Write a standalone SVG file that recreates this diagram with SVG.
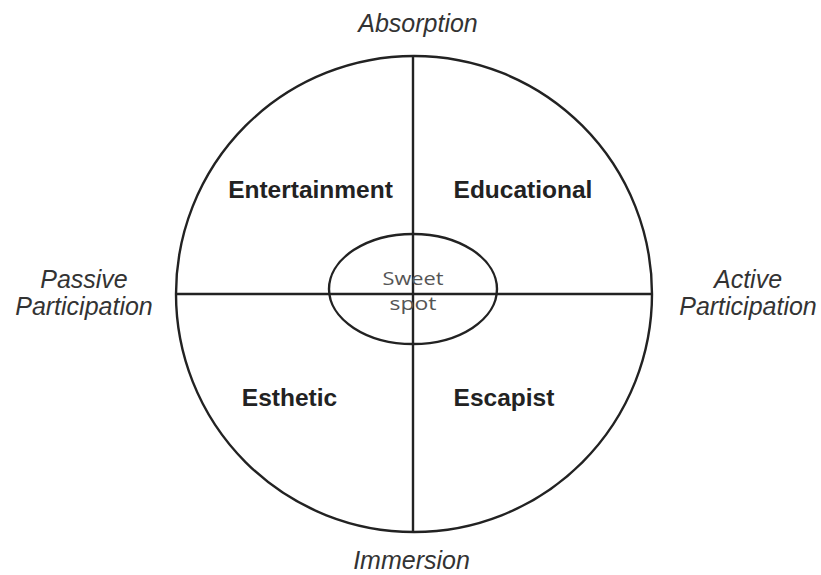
<svg xmlns="http://www.w3.org/2000/svg" width="821" height="575" viewBox="0 0 821 575">
<style>
.line{fill:none;stroke:#222;stroke-width:2.4}
.q{font-family:"Liberation Sans",Arial,sans-serif;font-weight:bold;font-size:24.5px;fill:#222;text-anchor:middle}
.ax{font-family:"Liberation Sans",Arial,sans-serif;font-style:italic;font-size:25px;fill:#333;text-anchor:middle}
.sw{font-family:"Open Sans","Liberation Sans",sans-serif;font-size:19px;fill:#555;text-anchor:middle}
</style>
<rect width="821" height="575" fill="#fff"/>
<g id="connectors">
<circle class="line" cx="414" cy="294" r="238"/>
<line class="line" x1="413" y1="56" x2="413" y2="532"/>
<line class="line" x1="177" y1="294" x2="651" y2="294"/>
</g>
<g id="sweet-spot">
<ellipse class="line" cx="413" cy="289" rx="84" ry="55"/>
<text class="sw" x="413" y="285" textLength="61" lengthAdjust="spacingAndGlyphs">Sweet</text>
<text class="sw" x="413" y="310" textLength="47" lengthAdjust="spacingAndGlyphs">spot</text>
</g>
<g id="entertainment"><text class="q" x="310.5" y="198">Entertainment</text></g>
<g id="educational"><text class="q" x="523" y="198">Educational</text></g>
<g id="esthetic"><text class="q" x="289.5" y="406">Esthetic</text></g>
<g id="escapist"><text class="q" x="504" y="406">Escapist</text></g>
<g id="absorption"><text class="ax" x="418" y="32">Absorption</text></g>
<g id="immersion"><text class="ax" x="411.5" y="569">Immersion</text></g>
<g id="passive"><text class="ax" x="84" y="288">Passive</text><text class="ax" x="84" y="315">Participation</text></g>
<g id="active"><text class="ax" x="748" y="288">Active</text><text class="ax" x="748" y="315">Participation</text></g>
</svg>
